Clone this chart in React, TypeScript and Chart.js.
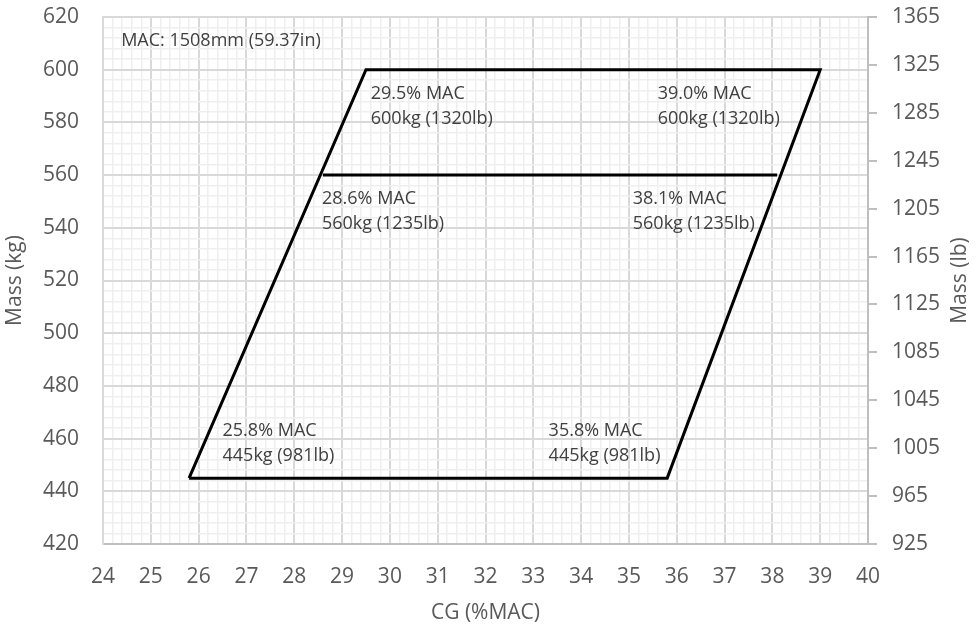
import React, { useEffect, useRef } from "react";
import { Chart, registerables } from "chart.js";

Chart.register(...registerables);

// Envelope outline (CG %MAC, mass kg)
const cgOutline = [25.8, 29.5, 39.0, 35.8, 25.8];
const massOutline = [445, 600, 600, 445, 445];
// Intermediate 560 kg line
const cgMid = [28.6, 38.1];
const massMid = [560, 560];

// Axis ranges / steps
const xRange = [24, 40];
const xMinorStep = 0.2;
const yRange = [420, 620];
const yMinorStep = 4;
const yMajorStep = 20;
const lbRange = [925, 1365];
const lbStep = 40;

// Annotation texts with anchors in data coordinates
const noteLines = [
  ["MAC: 1508mm (59.37in)"],
  ["29.5% MAC", "600kg (1320lb)"],
  ["39.0% MAC", "600kg (1320lb)"],
  ["28.6% MAC", "560kg (1235lb)"],
  ["38.1% MAC", "560kg (1235lb)"],
  ["25.8% MAC", "445kg (981lb)"],
  ["35.8% MAC", "445kg (981lb)"],
];
const noteX = [24.38, 29.6, 35.6, 28.58, 35.08, 26.5, 33.32];
const noteY = [611, 591, 591, 551, 551, 463, 463];

const FONT = "'Open Sans', sans-serif";
const TXT = "#595959";
const MAJOR = "#d9d9d9";
const MINOR = "#efefef";
const AXIS = "#bfbfbf";

const isMult = (v: number, step: number, base: number) => {
  const k = (v - base) / step;
  return Math.abs(k - Math.round(k)) < 1e-6;
};

const noPad = (s: any) => {
  s.paddingTop = 0;
  s.paddingBottom = 0;
  s.paddingLeft = 0;
  s.paddingRight = 0;
};

export default function App() {
  const ref = useRef<HTMLCanvasElement | null>(null);

  useEffect(() => {
    document.body.style.margin = "0";
    const canvas = ref.current!;
    const annotations = {
      id: "notes",
      afterDatasetsDraw(chart: any) {
        const { ctx, scales } = chart;
        ctx.save();
        ctx.fillStyle = "#404040";
        ctx.font = `18px ${FONT}`;
        ctx.textAlign = "left";
        ctx.textBaseline = "middle";
        noteLines.forEach((lines, i) => {
          const px = scales.x.getPixelForValue(noteX[i]);
          const py = scales.y.getPixelForValue(noteY[i]);
          lines.forEach((t, j) => ctx.fillText(t, px, py + j * 25));
        });
        ctx.restore();
      },
      afterDraw(chart: any) {
        const { ctx, chartArea } = chart;
        ctx.save();
        ctx.fillStyle = TXT;
        ctx.font = `21px ${FONT}`;
        ctx.textAlign = "center";
        ctx.textBaseline = "middle";
        ctx.translate(chart.width - 19, (chartArea.top + chartArea.bottom) / 2);
        ctx.rotate(-Math.PI / 2);
        ctx.fillText("Mass (lb)", 0, 0);
        ctx.restore();
      },
    };

    const chart = new Chart(canvas, {
      type: "scatter",
      data: {
        datasets: [
          {
            data: cgOutline.map((x, i) => ({ x, y: massOutline[i] })),
            showLine: true,
            borderColor: "#000000",
            borderWidth: 3,
            pointRadius: 0,
            borderJoinStyle: "miter",
            yAxisID: "y",
          },
          {
            data: cgMid.map((x, i) => ({ x, y: massMid[i] })),
            showLine: true,
            borderColor: "#000000",
            borderWidth: 3,
            pointRadius: 0,
            yAxisID: "y",
          },
        ],
      },
      options: {
        animation: false,
        responsive: false,
        devicePixelRatio: 1,
        layout: { padding: { top: 17, left: 0, right: 0, bottom: 0 } },
        plugins: { legend: { display: false }, tooltip: { enabled: false } },
        scales: {
          x: {
            type: "linear",
            position: "bottom",
            min: xRange[0],
            max: xRange[1],
            afterFit: (s: any) => {
              s.height = 86;
              noPad(s);
            },
            ticks: {
              stepSize: xMinorStep,
              autoSkip: false,
              maxRotation: 0,
              color: TXT,
              font: { family: FONT, size: 21 },
              padding: 20,
              callback: (v: any) => (isMult(Number(v), 1, 0) ? String(Math.round(Number(v))) : ""),
            },
            grid: {
              drawTicks: false,
              color: (c: any) => (isMult(c.tick.value, 1, 0) ? MAJOR : MINOR),
              lineWidth: (c: any) => (isMult(c.tick.value, 1, 0) ? 2 : 1.5),
            },
            border: { display: true, color: AXIS, width: 2 },
            title: {
              display: true,
              text: "CG (%MAC)",
              color: TXT,
              font: { family: FONT, size: 21 },
              padding: { top: 0, bottom: 4 },
            },
          },
          y: {
            type: "linear",
            position: "left",
            min: yRange[0],
            max: yRange[1],
            afterFit: (s: any) => {
              s.width = 103;
              noPad(s);
            },
            ticks: {
              stepSize: yMinorStep,
              autoSkip: false,
              color: TXT,
              font: { family: FONT, size: 21 },
              padding: 24,
              callback: (v: any) => (isMult(Number(v), yMajorStep, yRange[0]) ? String(Math.round(Number(v))) : ""),
            },
            grid: {
              drawTicks: false,
              color: (c: any) => (isMult(c.tick.value, yMajorStep, yRange[0]) ? MAJOR : MINOR),
              lineWidth: (c: any) => (isMult(c.tick.value, yMajorStep, yRange[0]) ? 2 : 1.5),
            },
            border: { display: true, color: MAJOR, width: 2 },
            title: {
              display: true,
              text: "Mass (kg)",
              color: TXT,
              font: { family: FONT, size: 21 },
              padding: { top: 2, bottom: 0 },
            },
          },
          y2: {
            type: "linear",
            position: "right",
            min: lbRange[0],
            max: lbRange[1],
            afterFit: (s: any) => {
              s.width = 111;
              noPad(s);
            },
            ticks: {
              stepSize: lbStep,
              autoSkip: false,
              color: TXT,
              font: { family: FONT, size: 21 },
              padding: 15,
              callback: (v: any) => String(Math.round(Number(v))),
            },
            grid: {
              drawOnChartArea: false,
              drawTicks: true,
              tickLength: 9,
              color: AXIS,
              lineWidth: 2,
            },
            border: { display: true, color: AXIS, width: 2 },
          },
        },
      },
      plugins: [annotations],
    } as any);
    return () => chart.destroy();
  }, []);

  return <canvas ref={ref} width={979} height={630} style={{ display: "block" }} />;
}
